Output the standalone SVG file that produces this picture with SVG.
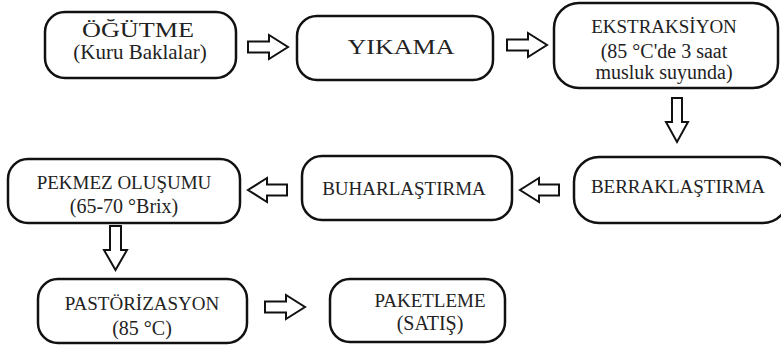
<svg xmlns="http://www.w3.org/2000/svg" width="781" height="349" viewBox="0 0 781 349">
<style>
.box{fill:#fff;stroke:#111;stroke-width:2.5}
.arr{fill:#fff;stroke:#111;stroke-width:2;stroke-linejoin:miter}
</style>
<rect width="781" height="349" fill="#fff"/>
<g id="connectors">
<path class="arr" d="M248,41.5 H269 V35 L288,47 L269,59 V52.5 H248 Z"/>
<path class="arr" d="M507,39.5 H528 V33 L547,45 L528,57 V50.5 H507 Z"/>
<path class="arr" d="M672,98 V122 H666 L677,142 L688,122 H682 V98 Z"/>
<path class="arr" d="M559,184.5 H539 V178 L520,190 L539,202 V195.5 H559 Z"/>
<path class="arr" d="M287,184.5 H267 V178 L248,190 L267,202 V195.5 H287 Z"/>
<path class="arr" d="M110,226 V250 H104 L115.5,270 L127,250 H121 V226 Z"/>
<path class="arr" d="M265,301.5 H286 V295 L305,307 L286,319 V312.5 H265 Z"/>
</g>
<g id="n1">
<rect class="box" x="45" y="12" width="191" height="66" rx="20"/>
<text x="138" y="37" font-family="Liberation Serif" fill="#222" text-anchor="middle" font-size="21" textLength="112" lengthAdjust="spacingAndGlyphs">ÖĞÜTME</text>
<text x="140" y="59" font-family="Liberation Serif" fill="#222" text-anchor="middle" font-size="21">(Kuru Baklalar)</text>
</g>
<g id="n2">
<rect class="box" x="297" y="16" width="196" height="64" rx="20"/>
<text x="401" y="54" font-family="Liberation Serif" fill="#222" text-anchor="middle" font-size="21" textLength="107" lengthAdjust="spacingAndGlyphs">YIKAMA</text>
</g>
<g id="n3">
<rect class="box" x="554" y="3" width="224" height="85" rx="25"/>
<text x="664" y="33" font-family="Liberation Serif" fill="#222" text-anchor="middle" font-size="19">EKSTRAKSİYON</text>
<text x="664" y="58" font-family="Liberation Serif" fill="#222" text-anchor="middle" font-size="20">(85 °C'de 3 saat</text>
<text x="664" y="79" font-family="Liberation Serif" fill="#222" text-anchor="middle" font-size="20">musluk suyunda)</text>
</g>
<g id="n4">
<rect class="box" x="574" y="157" width="214" height="66" rx="25"/>
<text x="678" y="193" font-family="Liberation Serif" fill="#222" text-anchor="middle" font-size="19">BERRAKLAŞTIRMA</text>
</g>
<g id="n5">
<rect class="box" x="302" y="156" width="210" height="64" rx="20"/>
<text x="404" y="195" font-family="Liberation Serif" fill="#222" text-anchor="middle" font-size="19">BUHARLAŞTIRMA</text>
</g>
<g id="n6">
<rect class="box" x="8" y="159" width="232" height="64" rx="20"/>
<text x="124" y="189" font-family="Liberation Serif" fill="#222" text-anchor="middle" font-size="19">PEKMEZ OLUŞUMU</text>
<text x="124" y="213" font-family="Liberation Serif" fill="#222" text-anchor="middle" font-size="20">(65-70 °Brix)</text>
</g>
<g id="n7">
<rect class="box" x="38" y="279" width="209" height="64" rx="20"/>
<text x="142" y="310" font-family="Liberation Serif" fill="#222" text-anchor="middle" font-size="19">PASTÖRİZASYON</text>
<text x="142" y="335" font-family="Liberation Serif" fill="#222" text-anchor="middle" font-size="20">(85 °C)</text>
</g>
<g id="n8">
<rect class="box" x="330" y="279" width="175" height="63" rx="20"/>
<text x="430" y="307" font-family="Liberation Serif" fill="#222" text-anchor="middle" font-size="19">PAKETLEME</text>
<text x="430" y="330" font-family="Liberation Serif" fill="#222" text-anchor="middle" font-size="20">(SATIŞ)</text>
</g>
</svg>
